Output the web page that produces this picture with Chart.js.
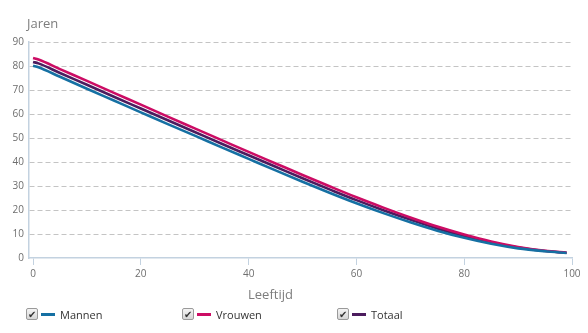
<!DOCTYPE html>
<html>
<head>
<meta charset="utf-8">
<script src="https://cdn.jsdelivr.net/npm/chart.js@4"></script>
<style>
  html, body { margin: 0; padding: 0; background: #fff; }
  #wrap { position: relative; width: 588px; height: 333px; font-family: 'Open Sans', sans-serif; }
  #chart { position: absolute; left: 0; top: 0; }
  .axis-title { position: absolute; color: #7d7d7d; font-size: 13px; line-height: 16px; }
  #legend .item { position: absolute; top: 307px; height: 14px; display: flex; align-items: center; font-size: 11px; color: #333; }
  #legend .box { width: 10px; height: 10px; border: 1px solid #9a9a9a; border-radius: 2px; background: linear-gradient(#f4f4f4, #d6d6d6);
    font-size: 10px; line-height: 10px; text-align: center; color: #333; margin-right: 3px; }
  #legend .swatch { width: 14px; height: 3px; margin-right: 5px; }
</style>
</head>
<body>
<div id="wrap">
  <canvas id="chart" width="588" height="333"></canvas>
  <div class="axis-title" style="left:27px; top:15px;">Jaren</div>
  <div class="axis-title" style="left:248px; top:286px;">Leeftijd</div>
  <div id="legend"></div>
</div>
<script>
// Leeftijd (age) and remaining life expectancy in years
const AGES = [0, 1, 5, 10, 15, 20, 25, 30, 35, 40, 45, 50, 55, 60, 65, 70, 75, 80, 85, 90, 95, 99];
const MANNEN = [80.1, 79.5, 75.5, 70.5, 65.6, 60.7, 55.8, 51.0, 46.1, 41.3, 36.5, 31.8, 27.2, 22.8, 18.7, 14.9, 11.4, 8.4, 5.9, 4.0, 2.8, 2.1];
const VROUWEN = [83.3, 82.7, 78.7, 73.8, 68.8, 63.9, 58.9, 54.0, 49.1, 44.2, 39.4, 34.6, 29.9, 25.3, 21.0, 16.9, 13.1, 9.8, 6.9, 4.6, 3.0, 2.2];
const TOTAAL = [81.7, 81.1, 77.1, 72.2, 67.2, 62.3, 57.4, 52.5, 47.6, 42.8, 38.0, 33.2, 28.6, 24.1, 19.9, 16.0, 12.3, 9.2, 6.5, 4.4, 2.9, 2.2];
const X_TICKS = [0, 20, 40, 60, 80, 100];

const SERIES = [
  { label: 'Mannen', data: MANNEN, color: '#1570a3' },
  { label: 'Vrouwen', data: VROUWEN, color: '#cc0c64' },
  { label: 'Totaal', data: TOTAAL, color: '#4c1c5e' },
];

const AXIS_COLOR = '#c3d2e0';
const TICK_COLOR = '#6e6e6e';
const FONT = { family: "'Open Sans', sans-serif", size: 10 };

const datasets = SERIES.map(s => ({
  label: s.label,
  data: AGES.map((a, i) => ({ x: a, y: s.data[i] })),
  borderColor: s.color,
  backgroundColor: s.color,
  borderWidth: 2.6,
  pointRadius: 0,
  cubicInterpolationMode: 'monotone',
}));

const chart = new Chart(document.getElementById('chart'), {
  type: 'line',
  data: { datasets },
  options: {
    responsive: false,
    animation: false,
    layout: { padding: { top: 42, right: 16, bottom: 50, left: 0 } },
    plugins: { legend: { display: false }, tooltip: { enabled: false } },
    scales: {
      x: {
        type: 'linear',
        min: -0.75,
        max: 100,
        afterBuildTicks: s => { s.ticks = X_TICKS.map(v => ({ value: v })); },
        afterFit: s => { s.height = 25; },
        grid: { drawOnChartArea: false, drawTicks: true, tickLength: 7, color: AXIS_COLOR },
        border: { color: AXIS_COLOR, width: 1.5 },
        ticks: { color: TICK_COLOR, font: FONT, padding: 3, maxRotation: 0 },
      },
      y: {
        min: 0,
        max: 90,
        afterFit: s => { s.width = 29; },
        grid: {
          drawTicks: false,
          // the 0 line is the x axis itself
          color: ctx => (ctx.tick && ctx.tick.value === 0) ? 'rgba(0,0,0,0)' : '#c4c4c4',
        },
        // in v4 border.dash dashes the grid lines, the axis line stays solid
        border: { color: AXIS_COLOR, width: 1.5, dash: [5, 3] },
        ticks: { stepSize: 10, color: TICK_COLOR, font: FONT, padding: 5 },
      },
    },
  },
});

// legend with checkbox look
const LEGEND_LEFT = [26, 182, 337];
const legend = document.getElementById('legend');
SERIES.forEach((s, i) => {
  const item = document.createElement('div');
  item.className = 'item';
  item.style.left = LEGEND_LEFT[i] + 'px';
  item.innerHTML = '<span class="box">&#10004;</span><span class="swatch" style="background:' + s.color + '"></span><span>' + s.label + '</span>';
  legend.appendChild(item);
});
</script>
</body>
</html>
